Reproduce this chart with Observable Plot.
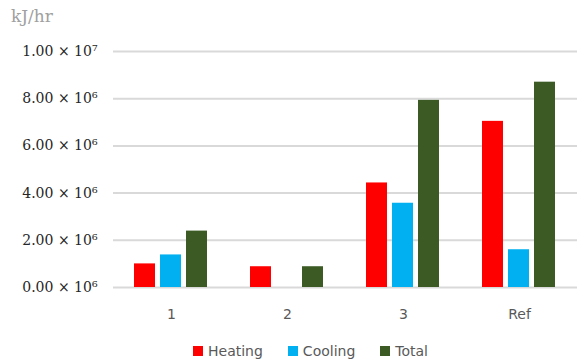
<!DOCTYPE html>
<html>
<head>
<meta charset="utf-8">
<script src="https://cdn.jsdelivr.net/npm/d3@7"></script>
<script src="https://cdn.jsdelivr.net/npm/@observablehq/plot@0.6"></script>
<style>
  html, body { margin: 0; padding: 0; background: #fff; }
  #wrap { position: relative; width: 584px; height: 363px; overflow: hidden; }
  #unit { position: absolute; left: 11px; top: 6px; font-family: "DejaVu Serif", serif; font-size: 17px; color: #a0a0a0; }
  #legend { position: absolute; left: 193px; top: 343px; display: flex; align-items: center; font-family: "DejaVu Sans", sans-serif; font-size: 14px; color: #595959; }
  #legend .item { display: flex; align-items: center; margin-right: 25px; }
  #legend .sw { width: 10px; height: 10px; margin-right: 5px; }
  svg [aria-label="y-axis tick label"] { font-family: "DejaVu Serif", serif; }
</style>
</head>
<body>
<div id="wrap">
  <div id="chart"></div>
  <div id="unit">kJ/hr</div>
  <div id="legend"></div>
</div>
<script>
const groups = ["1", "2", "3", "Ref"];
const series = ["Heating", "Cooling", "Total"];
const colors = ["#ff0000", "#00b0f0", "#3b5a24"];
const heating = [1.00e6, 0.88e6, 4.43e6, 7.04e6];
const cooling = [1.38e6, 0, 3.57e6, 1.60e6];
const total = [2.39e6, 0.88e6, 7.93e6, 8.70e6];
const yTicks = [0, 2e6, 4e6, 6e6, 8e6, 1e7];
const yTickLabels = ["0.00 × 10⁶", "2.00 × 10⁶", "4.00 × 10⁶", "6.00 × 10⁶", "8.00 × 10⁶", "1.00 × 10⁷"];

const valuesBySeries = {Heating: heating, Cooling: cooling, Total: total};
const rows = [];
groups.forEach((g, i) => series.forEach(s => rows.push({group: g, series: s, value: valuesBySeries[s][i]})));
const labelMap = new Map(yTicks.map((t, i) => [t, yTickLabels[i]]));

const chart = Plot.plot({
  width: 584,
  height: 326,
  marginLeft: 112,
  marginRight: 6,
  marginTop: 51,
  marginBottom: 39,
  style: {fontFamily: "DejaVu Sans, sans-serif", fontSize: "14px", background: "#fff"},
  fx: {domain: groups, padding: 0, label: null},
  x: {domain: series, paddingInner: 0.18, paddingOuter: 0.81, axis: null},
  y: {domain: [0, 1e7], axis: null},
  color: {domain: series, range: colors},
  marks: [
    Plot.gridY(yTicks, {stroke: "#d9d9d9", strokeOpacity: 1, strokeWidth: 2}),
    Plot.axisY(yTicks, {tickSize: 0, tickPadding: 16, tickFormat: d => labelMap.get(d), fontSize: 14, color: "#262626", label: null}),
    Plot.axisFx({anchor: "bottom", tickSize: 0, tickPadding: 22, fontSize: 14, color: "#595959", label: null}),
    Plot.barY(rows, {fx: "group", x: "series", y: "value", fill: "series"})
  ]
});
document.getElementById("chart").appendChild(chart);

const legend = document.getElementById("legend");
series.forEach((s, i) => {
  const item = document.createElement("div");
  item.className = "item";
  const sw = document.createElement("div");
  sw.className = "sw";
  sw.style.background = colors[i];
  const t = document.createElement("span");
  t.textContent = s;
  item.appendChild(sw);
  item.appendChild(t);
  legend.appendChild(item);
});
</script>
</body>
</html>
